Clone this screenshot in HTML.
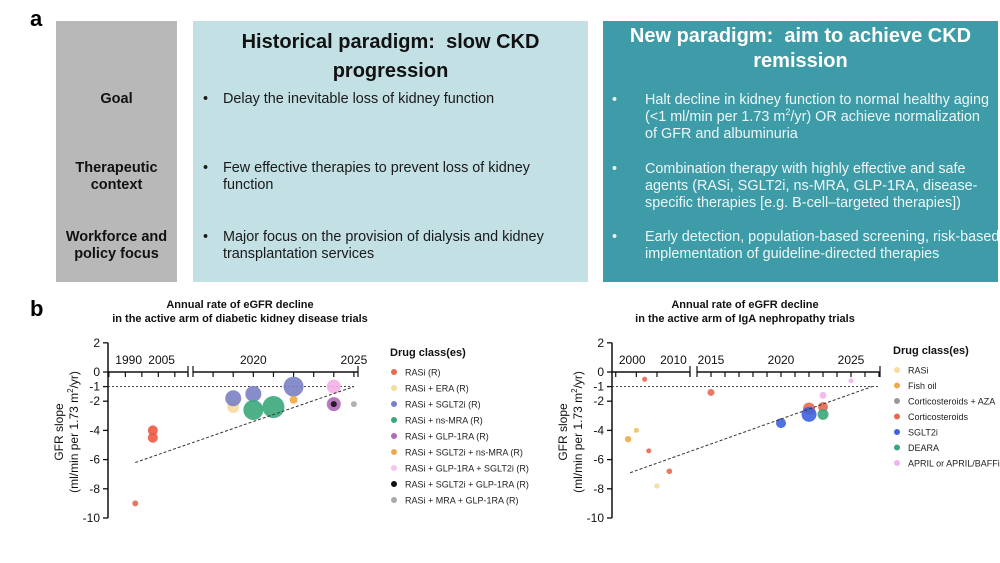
<!DOCTYPE html>
<html><head><meta charset="utf-8"><style>
body{margin:0;width:1000px;height:563px;background:#fff;font-family:"Liberation Sans",sans-serif;position:relative;overflow:hidden}
.box{position:absolute;top:21px;height:261px}
.t{position:absolute;white-space:nowrap}
.lbl{position:absolute;left:0;width:121px;text-align:center;font-weight:bold;font-size:14.5px;line-height:17px;color:#111}
.bl{position:absolute;font-size:14.4px;line-height:17px}
</style></head><body>
<div class="t" style="left:30px;top:6px;font-size:22px;font-weight:bold">a</div>
<div class="box" style="left:56px;width:121px;background:#b8b8b8">
 <div class="lbl" style="top:70px">Goal</div>
 <div class="lbl" style="top:139px">Therapeutic<br>context</div>
 <div class="lbl" style="top:208px">Workforce and<br>policy focus</div>
</div>
<div class="box" style="left:193px;width:395px;background:#c3e0e5;color:#1a1a1a">
 <div style="position:absolute;top:7px;left:0;width:395px;text-align:center;font-weight:bold;font-size:20px;line-height:29px;color:#111">Historical paradigm:&nbsp; slow CKD<br>progression</div>
 <div class="bl" style="left:10px;top:70px">•</div>
 <div class="bl" style="left:30px;top:70px">Delay the inevitable loss of kidney function</div>
 <div class="bl" style="left:10px;top:139px">•</div>
 <div class="bl" style="left:30px;top:139px;width:340px">Few effective therapies to prevent loss of kidney function</div>
 <div class="bl" style="left:10px;top:208px">•</div>
 <div class="bl" style="left:30px;top:208px;width:360px">Major focus on the provision of dialysis and kidney transplantation services</div>
</div>
<div class="box" style="left:603px;width:395px;background:#3d9ca7;color:#eef7f8">
 <div style="position:absolute;top:3px;left:0;width:395px;text-align:center;font-weight:bold;font-size:20px;line-height:25px;color:#fff">New paradigm:&nbsp; aim to achieve CKD<br>remission</div>
 <div class="bl" style="left:9px;top:71px">•</div>
 <div class="bl" style="left:42px;top:71px;width:352px">Halt decline in kidney function to normal healthy aging (&lt;1 ml/min per 1.73 m<sup style="font-size:9px;line-height:0">2</sup>/yr) OR achieve normalization&nbsp; of GFR and albuminuria</div>
 <div class="bl" style="left:9px;top:140px">•</div>
 <div class="bl" style="left:42px;top:140px;width:352px">Combination therapy with highly effective and safe agents (RASi, SGLT2i, ns-MRA, GLP-1RA, disease-specific therapies [e.g. B-cell–targeted therapies])</div>
 <div class="bl" style="left:9px;top:208px">•</div>
 <div class="bl" style="left:42px;top:208px;width:356px">Early detection, population-based screening, risk-based implementation of guideline-directed therapies</div>
</div>
<div class="t" style="left:30px;top:296px;font-size:22px;font-weight:bold">b</div>
<svg id="ch" width="1000" height="563" style="position:absolute;left:0;top:0" font-family="Liberation Sans, sans-serif"></svg>
<script>
// Left chart data (DKD)
const dkdYears=[1993,2001,2001,2019,2019,2020,2020,2021,2022,2022,2024,2024,2024,2025];
const dkdSlopes=[-9.0,-4.0,-4.5,-2.4,-1.8,-1.5,-2.6,-2.4,-1.0,-1.9,-1.0,-2.2,-2.2,-2.2];
const dkdColors=['#e8694f','#ec5a42','#ec5a42','#f7dca0','#7a80c4','#7a80c4','#3aa77a','#3aa77a','#7a80c4','#f0a948','#f4aee6','#b069b8','#111','#aaa'];
const dkdSizes=[3,5,5,6,8,8,10,11,10,4,7,7,3,3];
const dkdTrend=[[1993,-6.2],[2025,-1.0]];
const dkdTicks=[1990,2005,2020,2025];
const legendDkd=['RASi (R)','RASi + ERA (R)','RASi + SGLT2i (R)','RASi + ns-MRA (R)','RASi + GLP-1RA (R)','RASi + SGLT2i + ns-MRA (R)','RASi + GLP-1RA + SGLT2i (R)','RASi + SGLT2i + GLP-1RA (R)','RASi + MRA + GLP-1RA (R)'];
const legendDkdColors=['#e8694f','#f7dca0','#7a80c4','#3aa77a','#b069b8','#f0a948','#f7c4ea','#111','#aaa'];
// Right chart data (IgAN)
const igaYears=[2003,2015,2025,2023,2022,2023,2022,2023,2020,1999,2001,2004,2009,2006];
const igaSlopes=[-0.5,-1.4,-0.6,-1.6,-2.5,-2.4,-2.9,-2.9,-3.5,-4.6,-4.0,-5.4,-6.8,-7.8];
const igaColors=['#e8694f','#e8694f','#f0b4ee','#f0b4ee','#e8694f','#e8694f','#3d62e0','#3aa77a','#3d62e0','#f0a948','#f0c060','#e8694f','#e8694f','#f7dca0'];
const igaSizes=[2.5,3.5,2.5,3.5,6,5,7.5,5.5,5,3.2,2.5,2.5,2.8,2.8];
const igaTrend=[[1999.5,-6.9],[2026.5,-1.0]];
const igaTicks=[2000,2010,2015,2020,2025];
const legendIga=['RASi','Fish oil','Corticosteroids + AZA','Corticosteroids','SGLT2i','DEARA','APRIL or APRIL/BAFFi'];
const legendIgaColors=['#f7dca0','#f0a948','#999','#e8694f','#3d62e0','#3aa77a','#f0b4ee'];
const yTicks=[2,0,-1,-2,-4,-6,-8,-10];

const svg=document.getElementById('ch');const NS='http://www.w3.org/2000/svg';
function mk(t,a,txt){const e=document.createElementNS(NS,t);for(const k in a)e.setAttribute(k,a[k]);if(txt!==undefined)e.textContent=txt;svg.appendChild(e);return e;}
const ys=v=>372-v*14.6;
function xsF(segs){return y=>{for(const s of segs){if(y<=s.y1||s===segs[segs.length-1])return s.x0+(y-s.y0)*(s.x1-s.x0)/(s.y1-s.y0);}}}
function chart(o){
  const xs=xsF(o.segs);
  let e=mk('line',{x1:o.ax,y1:ys(2),x2:o.ax,y2:ys(-10),stroke:'#111','stroke-width':1.5});
  
  yTicks.forEach(v=>{mk('line',{x1:o.ax-5,y1:ys(v),x2:o.ax,y2:ys(v),stroke:'#111','stroke-width':1.3});
    const t=mk('text',{x:o.ax-8,y:ys(v)+4,'font-size':12,'text-anchor':'end',fill:'#111'},v);
    });
  o.segs.forEach((s,i)=>{mk('line',{x1:s.px0,y1:372,x2:s.px1,y2:372,stroke:'#111','stroke-width':1.5});
    for(let yr=Math.ceil(s.y0);yr<=s.yEnd;yr+=s.step){mk('line',{x1:xs(yr),y1:372,x2:xs(yr),y2:377,stroke:'#111','stroke-width':1.2});}
    mk('line',{x1:s.px1,y1:366,x2:s.px1,y2:377,stroke:'#111','stroke-width':1.2});
    if(i>0)mk('line',{x1:s.px0,y1:366,x2:s.px0,y2:377,stroke:'#111','stroke-width':1.2});
  });
  o.ticks.forEach(yr=>{const t=mk('text',{x:xs(yr),y:364,'font-size':12,'text-anchor':'middle',fill:'#111'},yr);
    });
  e=mk('line',{x1:o.ax,y1:ys(-1),x2:o.refEnd,y2:ys(-1),stroke:'#333','stroke-width':0.9,'stroke-dasharray':'2,2'});
  
  o.years.forEach((yr,i)=>{const c=mk('circle',{cx:xs(yr),cy:ys(o.slopes[i]),r:o.sizes[i],fill:o.colors[i],'fill-opacity':0.9});
    });
  e=mk('line',{x1:xs(o.trend[0][0]),y1:ys(o.trend[0][1]),x2:xs(o.trend[1][0]),y2:ys(o.trend[1][1]),stroke:'#333','stroke-width':1,'stroke-dasharray':'3,2'});
  
  o.title.forEach((l,i)=>{const t=mk('text',{x:o.tx,y:308+i*14,'font-size':11,'font-weight':'bold','text-anchor':'middle',fill:'#111'},l);
    });
  const g=mk('text',{transform:`translate(${o.ax-45},432) rotate(-90)`,'font-size':12,'text-anchor':'middle',fill:'#111'});
  
  const a=document.createElementNS(NS,'tspan');a.setAttribute('x',0);a.setAttribute('dy',0);a.textContent='GFR slope';g.appendChild(a);
  const b=document.createElementNS(NS,'tspan');b.setAttribute('x',0);b.setAttribute('dy',15);b.innerHTML='(ml/min per 1.73 m<tspan font-size="8" dy="-5">2</tspan><tspan dy="5">/yr)</tspan>';g.appendChild(b);
  let t=mk('text',{x:o.lx,y:o.ly,'font-size':11,'font-weight':'bold',fill:'#111'},'Drug class(es)');
  
  o.leg.forEach((l,i)=>{const y=o.ly+19+i*o.lsp;
    mk('circle',{cx:o.lx+4,cy:y-3,r:3,fill:o.legC[i]});
    const tt=mk('text',{x:o.lx+15,y:y+0.5,'font-size':9,fill:'#222'},l);
    });
}
chart({ax:108,segs:[{y0:1980.6,y1:2017,x0:108,x1:188,px0:108,px1:188,yEnd:2017,step:7.5},{y0:2017,y1:2025.8,x0:193,x1:370,px0:193,px1:358,yEnd:2025,step:1}],
  ticks:dkdTicks,years:dkdYears,slopes:dkdSlopes,colors:dkdColors,sizes:dkdSizes,trend:dkdTrend,refEnd:356,
  title:['Annual rate of eGFR decline','in the active arm of diabetic kidney disease trials'],tx:240,lx:390,ly:356,lsp:16,leg:legendDkd,legC:legendDkdColors});
chart({ax:612,segs:[{y0:1995.1,y1:2014,x0:612,x1:690,px0:612,px1:690,yEnd:2010,step:5},{y0:2014,y1:2027.5,x0:697,x1:886,px0:697,px1:880,yEnd:2027,step:1}],
  ticks:igaTicks,years:igaYears,slopes:igaSlopes,colors:igaColors,sizes:igaSizes,trend:igaTrend,refEnd:880,
  title:['Annual rate of eGFR decline','in the active arm of IgA nephropathy trials'],tx:745,lx:893,ly:354,lsp:15.5,leg:legendIga,legC:legendIgaColors});
</script>
</body></html>
